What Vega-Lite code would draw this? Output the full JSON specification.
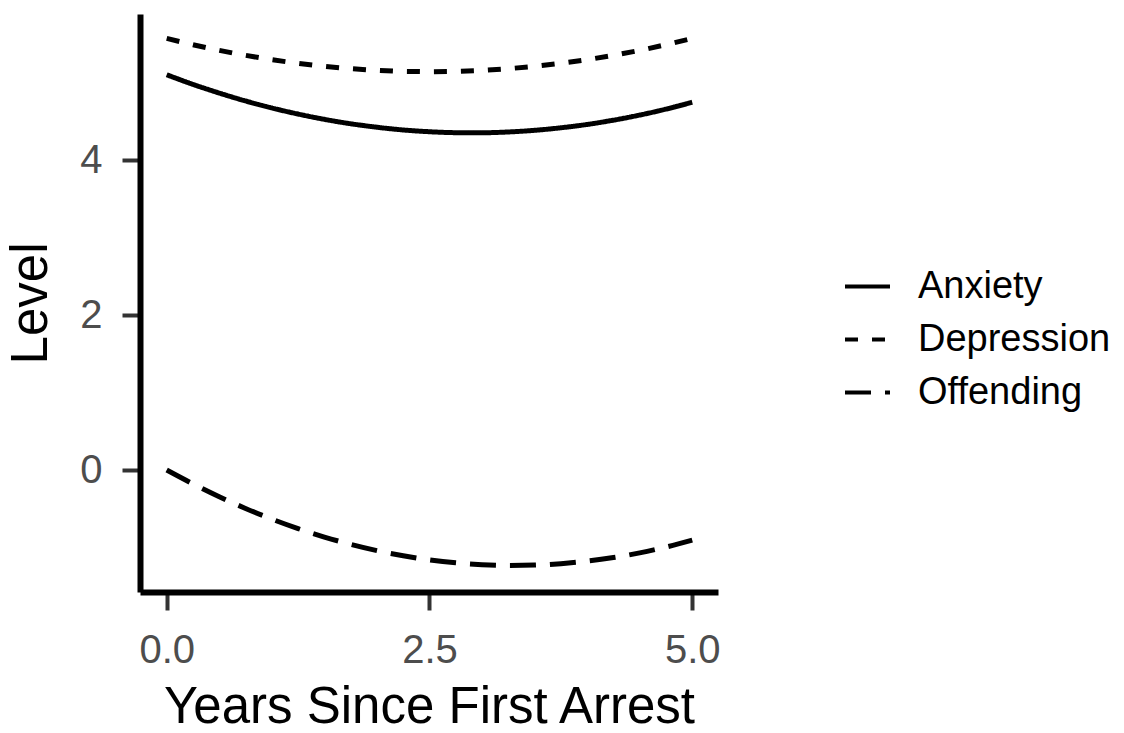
{
  "$schema": "https://vega.github.io/schema/vega-lite/v6.json",
  "width": 578,
  "height": 578,
  "autosize": {"type": "none"},
  "padding": {"left": 140, "top": 14, "right": 406, "bottom": 141},
  "background": "white",
  "config": {
    "view": {"stroke": null},
    "font": "Liberation Sans",
    "axis": {
      "grid": false,
      "domainColor": "#000000",
      "domainWidth": 6,
      "tickColor": "#333333",
      "tickWidth": 4,
      "tickSize": 18,
      "labelColor": "#4D4D4D",
      "labelFontSize": 40,
      "labelFont": "Liberation Sans",
      "labelPadding": 20,
      "titleFont": "Liberation Sans",
      "titleFontSize": 51,
      "titleFontWeight": "normal",
      "titleColor": "#000000"
    },
    "legend": {
      "labelFont": "Liberation Sans",
      "labelFontSize": 38,
      "labelColor": "#000000",
      "labelLimit": 400
    }
  },
  "data": {
    "values": [
      {"x": 0.0, "level": 5.100, "measure": "Anxiety"},
      {"x": 0.25, "level": 4.976, "measure": "Anxiety"},
      {"x": 0.5, "level": 4.864, "measure": "Anxiety"},
      {"x": 0.75, "level": 4.762, "measure": "Anxiety"},
      {"x": 1.0, "level": 4.672, "measure": "Anxiety"},
      {"x": 1.25, "level": 4.593, "measure": "Anxiety"},
      {"x": 1.5, "level": 4.525, "measure": "Anxiety"},
      {"x": 1.75, "level": 4.468, "measure": "Anxiety"},
      {"x": 2.0, "level": 4.423, "measure": "Anxiety"},
      {"x": 2.25, "level": 4.388, "measure": "Anxiety"},
      {"x": 2.5, "level": 4.365, "measure": "Anxiety"},
      {"x": 2.75, "level": 4.353, "measure": "Anxiety"},
      {"x": 3.0, "level": 4.352, "measure": "Anxiety"},
      {"x": 3.25, "level": 4.362, "measure": "Anxiety"},
      {"x": 3.5, "level": 4.383, "measure": "Anxiety"},
      {"x": 3.75, "level": 4.416, "measure": "Anxiety"},
      {"x": 4.0, "level": 4.459, "measure": "Anxiety"},
      {"x": 4.25, "level": 4.514, "measure": "Anxiety"},
      {"x": 4.5, "level": 4.580, "measure": "Anxiety"},
      {"x": 4.75, "level": 4.657, "measure": "Anxiety"},
      {"x": 5.0, "level": 4.745, "measure": "Anxiety"},
      {"x": 0.0, "level": 5.570, "measure": "Depression"},
      {"x": 0.25, "level": 5.488, "measure": "Depression"},
      {"x": 0.5, "level": 5.415, "measure": "Depression"},
      {"x": 0.75, "level": 5.351, "measure": "Depression"},
      {"x": 1.0, "level": 5.295, "measure": "Depression"},
      {"x": 1.25, "level": 5.248, "measure": "Depression"},
      {"x": 1.5, "level": 5.209, "measure": "Depression"},
      {"x": 1.75, "level": 5.179, "measure": "Depression"},
      {"x": 2.0, "level": 5.157, "measure": "Depression"},
      {"x": 2.25, "level": 5.144, "measure": "Depression"},
      {"x": 2.5, "level": 5.140, "measure": "Depression"},
      {"x": 2.75, "level": 5.144, "measure": "Depression"},
      {"x": 3.0, "level": 5.157, "measure": "Depression"},
      {"x": 3.25, "level": 5.179, "measure": "Depression"},
      {"x": 3.5, "level": 5.209, "measure": "Depression"},
      {"x": 3.75, "level": 5.248, "measure": "Depression"},
      {"x": 4.0, "level": 5.295, "measure": "Depression"},
      {"x": 4.25, "level": 5.351, "measure": "Depression"},
      {"x": 4.5, "level": 5.415, "measure": "Depression"},
      {"x": 4.75, "level": 5.488, "measure": "Depression"},
      {"x": 5.0, "level": 5.570, "measure": "Depression"},
      {"x": 0.0, "level": 0.000, "measure": "Offending"},
      {"x": 0.25, "level": -0.179, "measure": "Offending"},
      {"x": 0.5, "level": -0.345, "measure": "Offending"},
      {"x": 0.75, "level": -0.496, "measure": "Offending"},
      {"x": 1.0, "level": -0.633, "measure": "Offending"},
      {"x": 1.25, "level": -0.756, "measure": "Offending"},
      {"x": 1.5, "level": -0.865, "measure": "Offending"},
      {"x": 1.75, "level": -0.959, "measure": "Offending"},
      {"x": 2.0, "level": -1.040, "measure": "Offending"},
      {"x": 2.25, "level": -1.106, "measure": "Offending"},
      {"x": 2.5, "level": -1.159, "measure": "Offending"},
      {"x": 2.75, "level": -1.197, "measure": "Offending"},
      {"x": 3.0, "level": -1.221, "measure": "Offending"},
      {"x": 3.25, "level": -1.231, "measure": "Offending"},
      {"x": 3.5, "level": -1.227, "measure": "Offending"},
      {"x": 3.75, "level": -1.208, "measure": "Offending"},
      {"x": 4.0, "level": -1.176, "measure": "Offending"},
      {"x": 4.25, "level": -1.129, "measure": "Offending"},
      {"x": 4.5, "level": -1.069, "measure": "Offending"},
      {"x": 4.75, "level": -0.994, "measure": "Offending"},
      {"x": 5.0, "level": -0.905, "measure": "Offending"}
    ]
  },
  "mark": {"type": "line", "color": "#000000", "strokeWidth": 5, "strokeCap": "butt", "interpolate": "monotone"},
  "encoding": {
    "x": {
      "field": "x",
      "type": "quantitative",
      "title": "Years Since First Arrest",
      "scale": {"domain": [-0.254, 5.245], "nice": false, "zero": false},
      "axis": {"values": [0, 2.5, 5], "format": ".1f", "titlePadding": 12}
    },
    "y": {
      "field": "level",
      "type": "quantitative",
      "title": "Level",
      "scale": {"domain": [-1.574, 5.884], "nice": false, "zero": false},
      "axis": {"values": [0, 2, 4], "format": "d", "titlePadding": 22}
    },
    "strokeDash": {
      "field": "measure",
      "type": "nominal",
      "scale": {
        "domain": ["Anxiety", "Depression", "Offending"],
        "range": [[1, 0], [13, 14], [26, 14]]
      },
      "legend": {
        "title": null,
        "orient": "none",
        "legendX": 703,
        "legendY": 248,
        "symbolType": "stroke",
        "symbolSize": 2025,
        "symbolStrokeWidth": 4,
        "symbolStrokeColor": "#000000",
        "labelOffset": 26,
        "rowPadding": 9
      }
    }
  }
}
